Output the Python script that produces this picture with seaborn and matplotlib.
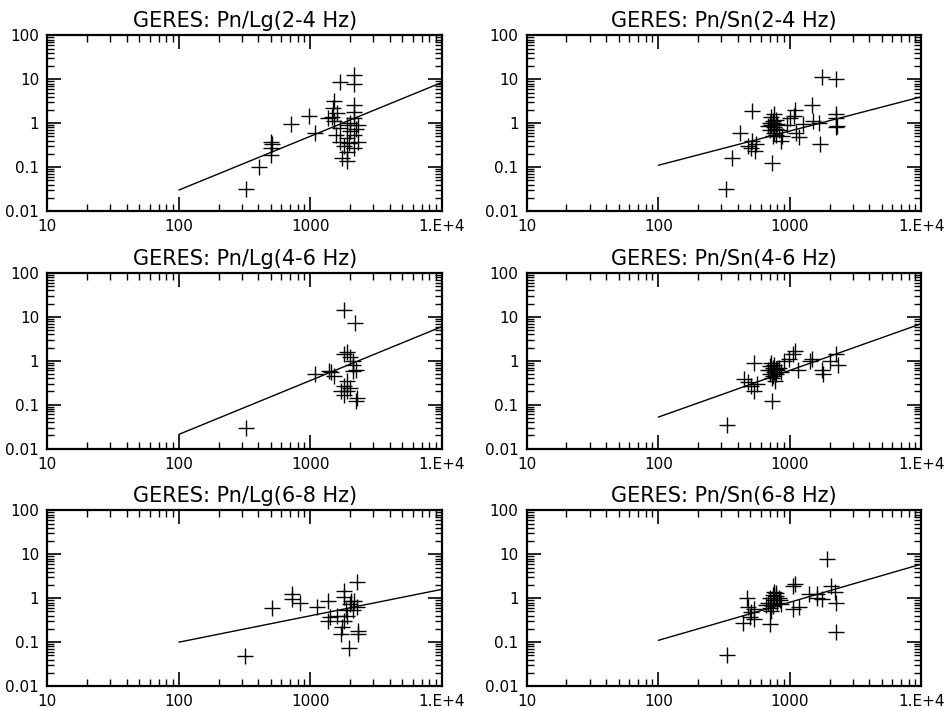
import numpy as np
import pandas as pd
import seaborn as sns
import matplotlib
matplotlib.use("Agg")
import matplotlib.pyplot as plt
from matplotlib.ticker import LogLocator, NullFormatter

# values (x: distance-like axis, y: amplitude ratio)
lg24_x = [321, 405, 497, 497, 497, 510, 705, 970, 1091, 1690, 2133, 2150, 1500, 1480, 2133, 2133,
          1450, 1500, 1690, 1900, 2133, 2300, 2000, 1900, 1690, 1800, 1900, 1750, 1900, 2133, 2133,
          2300, 1350, 1550, 1600, 2000, 2200, 1950]
lg24_y = [0.032, 0.10, 0.38, 0.27, 0.19, 0.33, 0.95, 1.42, 0.59, 8.9, 12.5, 8.0, 3.2, 2.2, 2.6, 1.8,
          1.4, 1.1, 0.77, 0.9, 1.3, 0.92, 0.66, 0.45, 0.38, 0.30, 0.22, 0.16, 0.14, 0.27, 0.54,
          0.38, 1.3, 0.54, 1.7, 1.0, 0.75, 0.35]

sn24_x = [324, 364, 421, 517, 517, 505, 545, 555, 480, 733, 850,
          700, 720, 740, 760, 780, 720, 760, 800, 740, 780, 700, 820, 760, 790, 680, 750, 870,
          1070, 1100, 1120, 1170, 1250, 1480, 1500, 1650, 1700, 1763, 2230, 2230, 2230, 2230, 2280,
          1000, 950]
sn24_y = [0.031, 0.16, 0.6, 1.87, 0.39, 0.27, 0.23, 0.33, 0.30, 0.125, 0.4,
          0.7, 0.9, 1.1, 0.8, 1.2, 1.4, 0.6, 0.95, 0.5, 0.75, 1.0, 0.7, 1.6, 0.55, 0.85, 1.0, 0.5,
          1.44, 2.0, 0.6, 0.48, 0.95, 2.6, 1.1, 1.0, 0.33, 11.1, 10.0, 1.6, 1.3, 0.8, 0.85,
          1.3, 0.9]

lg46_x = [323, 1086, 1372, 1420, 1500, 1894, 1800, 1800, 2190, 2000, 2100, 2100, 2200, 1900,
          1800, 1900, 2000, 2200, 2250, 1800, 2100, 1700]
lg46_y = [0.03, 0.49, 0.58, 0.54, 0.45, 1.55, 1.4, 14.0, 7.3, 1.2, 0.97, 0.58, 0.62, 0.35,
          0.26, 0.2, 0.24, 0.12, 0.14, 0.17, 0.8, 0.2]

sn46_x = [333, 445, 531, 505, 531, 560, 480, 733,
          700, 720, 740, 760, 780, 700, 750, 800, 820, 760, 730, 790, 680, 850, 770, 720,
          980, 1060, 1100, 1150, 1420, 1480, 1800, 1750, 2230, 2300, 2000, 900]
sn46_y = [0.035, 0.38, 0.91, 0.26, 0.2, 0.3, 0.33, 0.12,
          0.5, 0.6, 0.7, 0.55, 0.65, 0.75, 0.45, 0.6, 0.7, 0.8, 0.4, 0.5, 0.6, 0.55, 0.35, 0.9,
          1.1, 1.4, 1.7, 0.6, 1.0, 1.1, 0.5, 0.6, 1.4, 0.8, 1.0, 1.0]

lg68_x = [318, 507, 720, 730, 832, 1117, 1370, 1400, 1370, 1800, 1800, 1850, 1800, 1750, 1700,
          1950, 2250, 2150, 2250, 2000, 2300, 2300, 2050, 2100, 1900, 1600]
lg68_y = [0.049, 0.59, 1.24, 0.95, 0.8, 0.62, 0.88, 0.37, 0.3, 1.5, 1.05, 0.55, 0.3, 0.22, 0.15,
          0.074, 2.3, 0.88, 0.62, 0.74, 0.18, 0.15, 0.88, 0.55, 0.4, 0.4]

sn68_x = [331, 443, 470, 480, 505, 531, 531, 495, 708,
          680, 700, 720, 740, 760, 780, 700, 800, 820, 760, 720, 840, 660, 750, 790, 850,
          1060, 1100, 1060, 1180, 1400, 1600, 1750, 1900, 2050, 2200, 2250, 2250, 1600]
sn68_y = [0.052, 0.27, 1.0, 0.62, 0.48, 0.57, 0.34, 0.37, 0.26,
          0.8, 1.0, 0.7, 1.2, 0.9, 1.1, 0.6, 0.8, 1.0, 1.4, 0.5, 0.9, 0.7, 0.65, 1.3, 0.75,
          1.94, 2.1, 0.57, 0.62, 1.25, 1.25, 0.95, 8.0, 1.9, 1.37, 0.8, 0.17, 1.0]

# fitted lines, evaluated at the two ends
fit_x = [100, 10000]
fit_lg24 = [0.03, 8.5]
fit_sn24 = [0.11, 4.0]
fit_lg46 = [0.021, 6.0]
fit_sn46 = [0.052, 7.0]
fit_lg68 = [0.1, 1.6]
fit_sn68 = [0.11, 6.0]

titles = ["GERES: Pn/Lg(2-4 Hz)", "GERES: Pn/Sn(2-4 Hz)",
          "GERES: Pn/Lg(4-6 Hz)", "GERES: Pn/Sn(4-6 Hz)",
          "GERES: Pn/Lg(6-8 Hz)", "GERES: Pn/Sn(6-8 Hz)"]
panels = [(lg24_x, lg24_y, fit_lg24), (sn24_x, sn24_y, fit_sn24),
          (lg46_x, lg46_y, fit_lg46), (sn46_x, sn46_y, fit_sn46),
          (lg68_x, lg68_y, fit_lg68), (sn68_x, sn68_y, fit_sn68)]

x_ticks = [10, 100, 1000, 10000]
x_labels = ["10", "100", "1000", "1.E+4"]
y_ticks = [0.01, 0.1, 1, 10, 100]
y_labels = ["0.01", "0.1", "1", "10", "100"]

sns.set_theme(style="ticks", rc={"text.color": "black", "axes.labelcolor": "black",
                                 "xtick.color": "black", "ytick.color": "black",
                                 "axes.edgecolor": "black"})
plt.rcParams["font.family"] = ["DejaVu Sans"]

fig, axes = plt.subplots(3, 2, figsize=(9.48, 7.08), dpi=100)
fig.subplots_adjust(left=0.05, right=0.972, bottom=0.031, top=0.95, wspace=0.215, hspace=0.353)

for ax, (px, py, fy), title in zip(axes.flat, panels, titles):
    df = pd.DataFrame({"x": px, "y": py})
    sns.scatterplot(data=df, x="x", y="y", marker="+", s=130, color="black",
                    linewidth=1.0, ax=ax, legend=False)
    sns.lineplot(x=fit_x, y=fy, color="black", linewidth=1.0, ax=ax)
    ax.set_xscale("log")
    ax.set_yscale("log")
    ax.set_xlim(10, 10000)
    ax.set_ylim(0.01, 100)
    ax.set_xticks(x_ticks, labels=x_labels)
    ax.set_yticks(y_ticks, labels=y_labels)
    ax.xaxis.set_minor_locator(LogLocator(base=10, subs=np.arange(2, 10)))
    ax.yaxis.set_minor_locator(LogLocator(base=10, subs=np.arange(2, 10)))
    ax.xaxis.set_minor_formatter(NullFormatter())
    ax.yaxis.set_minor_formatter(NullFormatter())
    ax.tick_params(which="both", direction="in", top=True, right=True,
                   labelsize=11, pad=6)
    ax.tick_params(which="major", length=10, width=1.2)
    ax.tick_params(which="minor", length=5, width=1.0)
    ax.set_xlabel("")
    ax.set_ylabel("")
    ax.set_title(title, fontsize=15, pad=6, color="black")
    for sp in ax.spines.values():
        sp.set_linewidth(1.6)

plt.savefig("out.png", dpi=100)
